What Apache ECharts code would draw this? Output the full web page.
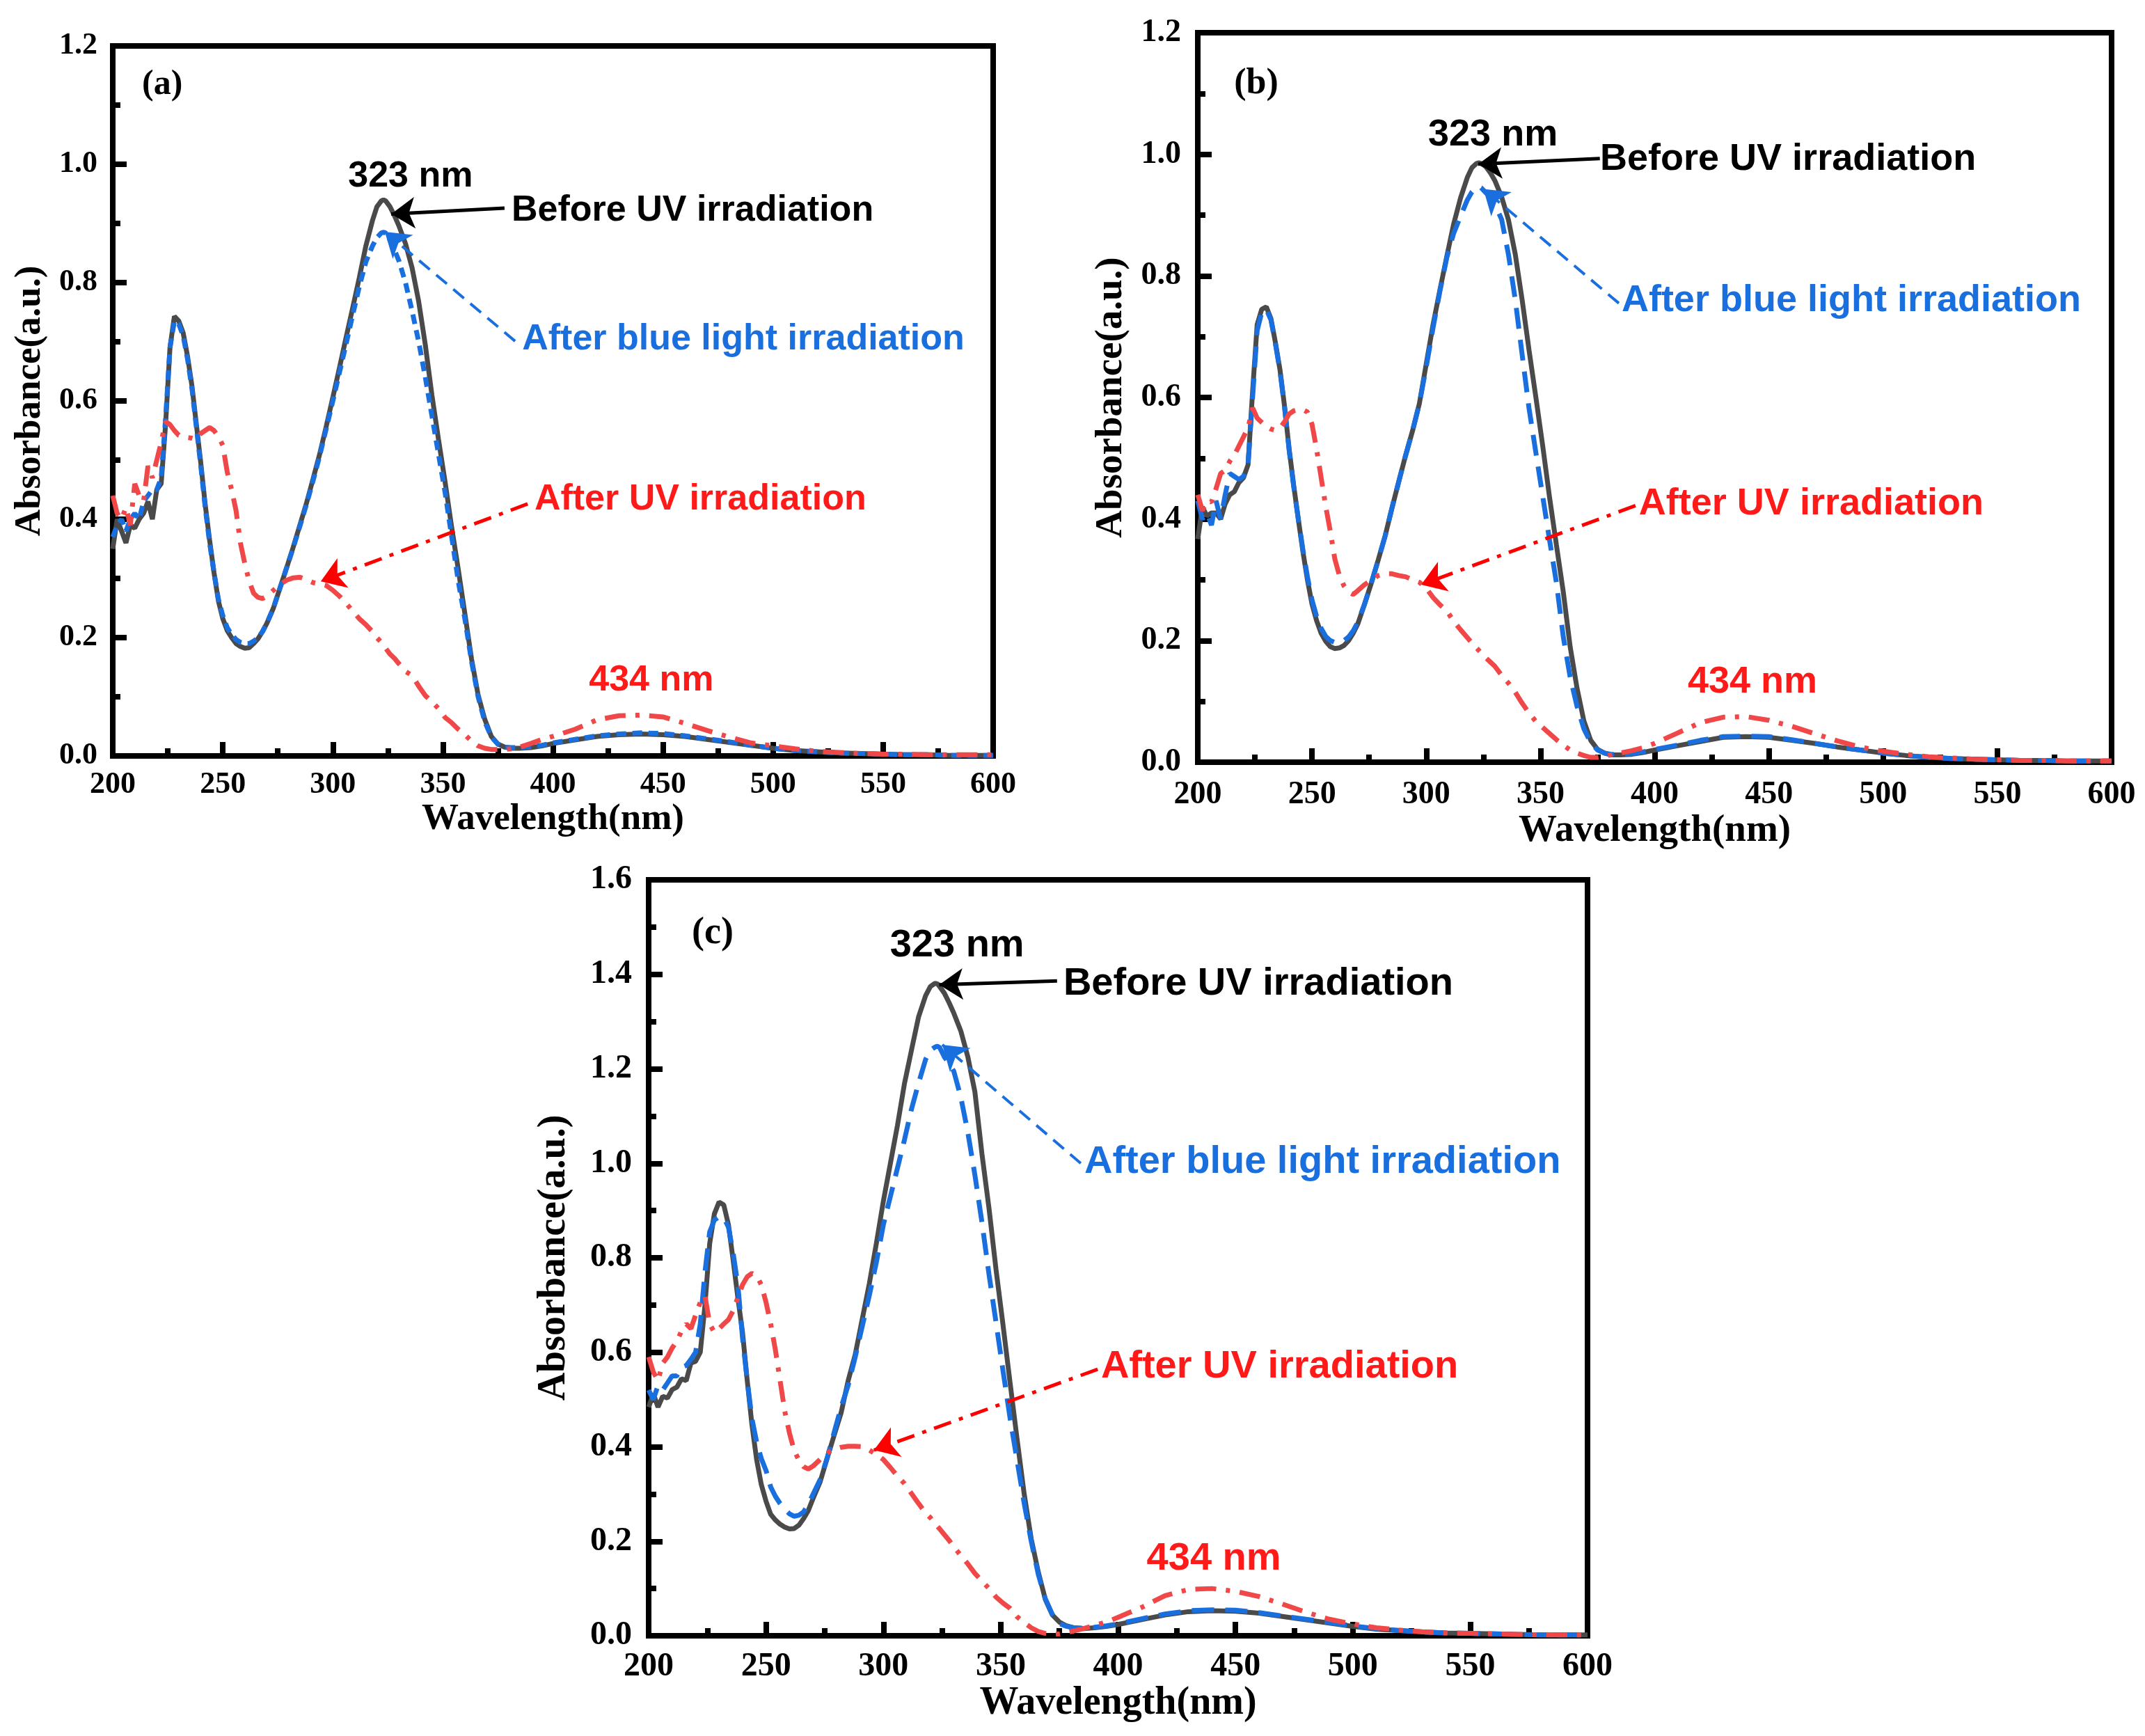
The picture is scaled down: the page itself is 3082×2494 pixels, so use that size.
<!DOCTYPE html>
<html>
<head>
<meta charset="utf-8">
<title>Absorbance spectra (a)(b)(c)</title>
<script src="https://cdn.jsdelivr.net/npm/echarts@6/dist/echarts.min.js"></script>
<style>
  html, body { margin: 0; padding: 0; background: #fff; }
  #main { width: 3082px; height: 2494px; }
</style>
</head>
<body>
<div id="main"></div>
<script>
"use strict";

// shared wavelength grid (nm)
const wavelength = [
  200, 202, 204, 206, 208, 210, 212, 214, 216, 218, 220, 222, 224, 226, 228, 230, 232, 234,
  236, 238, 240, 242, 244, 246, 248, 250, 252, 254, 256, 258, 260, 262, 264, 266, 268, 270,
  273, 276, 279, 282, 285, 288, 291, 294, 297, 300, 303, 306, 309, 312, 315, 318,
  320, 322, 323, 324, 326, 328, 330,
  333, 336, 339, 342, 345, 348, 351, 354, 357, 360, 363, 366, 369, 372, 375, 378, 381,
  385, 390, 395, 400,
  410, 420, 430, 440, 450, 460, 470, 480, 490, 500, 510, 520, 530, 540, 550, 560, 570, 580, 590, 600
];

// panel (a)
const aBefore = [
  0.35, 0.40, 0.38, 0.36, 0.39, 0.385, 0.40, 0.41, 0.43, 0.40, 0.45, 0.46, 0.56, 0.69, 0.743, 0.735, 0.715, 0.675,
  0.625, 0.56, 0.495, 0.425, 0.365, 0.31, 0.262, 0.232, 0.212, 0.200, 0.19, 0.185, 0.182, 0.183, 0.19, 0.198, 0.21, 0.224,
  0.25, 0.284, 0.318, 0.353, 0.39, 0.427, 0.468, 0.51, 0.557, 0.606, 0.656, 0.707, 0.757, 0.808, 0.862, 0.905,
  0.928, 0.938, 0.94, 0.938, 0.928, 0.913, 0.896,
  0.866, 0.825, 0.768, 0.695, 0.61, 0.535, 0.463, 0.386, 0.315, 0.24, 0.164, 0.103, 0.062, 0.033, 0.02, 0.015, 0.013,
  0.013, 0.014, 0.017, 0.021,
  0.027, 0.033, 0.036, 0.037, 0.036, 0.033, 0.028, 0.023, 0.018, 0.013, 0.009, 0.007, 0.005, 0.004, 0.003, 0.002, 0.002, 0.001, 0.001, 0.001
];
const aBlue = [
  0.37, 0.39, 0.40, 0.38, 0.40, 0.41, 0.40, 0.43, 0.44, 0.45, 0.45, 0.47, 0.57, 0.69, 0.735, 0.73, 0.71, 0.67,
  0.62, 0.555, 0.49, 0.42, 0.36, 0.31, 0.265, 0.237, 0.217, 0.205, 0.197, 0.192, 0.19, 0.19, 0.194, 0.2, 0.21, 0.224,
  0.25, 0.284, 0.318, 0.352, 0.388, 0.425, 0.465, 0.507, 0.553, 0.60, 0.648, 0.696, 0.745, 0.793, 0.835, 0.862,
  0.876, 0.884, 0.885, 0.884, 0.872, 0.855, 0.837,
  0.80, 0.752, 0.70, 0.64, 0.575, 0.51, 0.445, 0.37, 0.295, 0.231, 0.16, 0.1, 0.058, 0.032, 0.02, 0.015, 0.014,
  0.014, 0.016, 0.018, 0.022,
  0.028, 0.034, 0.037, 0.039, 0.038, 0.034, 0.029, 0.024, 0.018, 0.013, 0.009, 0.007, 0.005, 0.004, 0.003, 0.002, 0.002, 0.001, 0.001, 0.001
];
const aUv = [
  0.44, 0.41, 0.40, 0.42, 0.39, 0.46, 0.44, 0.43, 0.49, 0.47, 0.50, 0.53, 0.565, 0.56, 0.55, 0.542, 0.54, 0.538,
  0.537, 0.535, 0.545, 0.55, 0.555, 0.55, 0.54, 0.525, 0.48, 0.45, 0.415, 0.36, 0.325, 0.295, 0.275, 0.268, 0.266, 0.27,
  0.28, 0.29, 0.297, 0.301, 0.302, 0.298, 0.293, 0.291, 0.288, 0.28, 0.27, 0.258, 0.245, 0.232, 0.222, 0.21,
  0.2, 0.192, 0.187, 0.182, 0.172, 0.165, 0.156,
  0.143, 0.136, 0.118, 0.102, 0.092, 0.08, 0.065, 0.056, 0.045, 0.036, 0.025, 0.017, 0.013, 0.011, 0.011, 0.011, 0.012,
  0.015, 0.021, 0.028, 0.033,
  0.045, 0.061, 0.068, 0.069, 0.066, 0.055, 0.043, 0.032, 0.022, 0.017, 0.012, 0.008, 0.006, 0.004, 0.003, 0.003, 0.002, 0.002, 0.002, 0.002
];

// panel (b)
const bBefore = [
  0.367, 0.42, 0.405, 0.41, 0.41, 0.40, 0.425, 0.44, 0.445, 0.46, 0.468, 0.489, 0.61, 0.72, 0.745, 0.749, 0.73, 0.69,
  0.645, 0.585, 0.515, 0.455, 0.40, 0.347, 0.30, 0.26, 0.233, 0.212, 0.199, 0.19, 0.187, 0.188, 0.192, 0.2, 0.212, 0.227,
  0.26, 0.295, 0.333, 0.372, 0.418, 0.462, 0.505, 0.545, 0.59, 0.655, 0.72, 0.777, 0.832, 0.885, 0.928, 0.962,
  0.978, 0.985, 0.986, 0.985, 0.98, 0.97, 0.957,
  0.93, 0.892, 0.835, 0.76, 0.678, 0.60, 0.52, 0.435, 0.357, 0.28, 0.19, 0.122, 0.068, 0.036, 0.021, 0.015, 0.012,
  0.012, 0.013, 0.016, 0.02,
  0.027, 0.034, 0.041, 0.042, 0.041, 0.036, 0.031, 0.025, 0.02, 0.015, 0.011, 0.008, 0.006, 0.005, 0.004, 0.003, 0.003, 0.002, 0.002, 0.002
];
const bBlue = [
  0.43, 0.40, 0.41, 0.39, 0.43, 0.40, 0.44, 0.475, 0.47, 0.465, 0.47, 0.49, 0.60, 0.71, 0.74, 0.745, 0.728, 0.688,
  0.643, 0.583, 0.513, 0.453, 0.40, 0.35, 0.305, 0.267, 0.24, 0.22, 0.207, 0.2, 0.197, 0.197, 0.2, 0.206, 0.216, 0.23,
  0.26, 0.295, 0.333, 0.372, 0.418, 0.462, 0.505, 0.545, 0.59, 0.65, 0.715, 0.775, 0.83, 0.87, 0.898, 0.925,
  0.938, 0.945, 0.947, 0.945, 0.937, 0.93, 0.918,
  0.893, 0.835, 0.76, 0.67, 0.582, 0.509, 0.437, 0.365, 0.295, 0.206, 0.14, 0.092, 0.055, 0.032, 0.02, 0.015, 0.013,
  0.013, 0.014, 0.017, 0.021,
  0.028, 0.036, 0.042, 0.043, 0.042, 0.037, 0.031, 0.025, 0.02, 0.015, 0.011, 0.008, 0.006, 0.005, 0.004, 0.003, 0.003, 0.002, 0.002, 0.002
];
const bUv = [
  0.44, 0.414, 0.43, 0.428, 0.45, 0.475, 0.48, 0.495, 0.505, 0.52, 0.535, 0.55, 0.583, 0.566, 0.559, 0.552, 0.548, 0.546,
  0.55, 0.56, 0.573, 0.578, 0.58, 0.58, 0.576, 0.556, 0.515, 0.468, 0.421, 0.38, 0.334, 0.307, 0.29, 0.28, 0.276, 0.282,
  0.292, 0.30, 0.307, 0.31, 0.31, 0.307, 0.305, 0.30, 0.296, 0.286, 0.271, 0.259, 0.249, 0.232, 0.218, 0.205,
  0.196, 0.188, 0.184, 0.18, 0.172, 0.165, 0.158,
  0.143, 0.13, 0.115, 0.097, 0.081, 0.067, 0.057, 0.047, 0.037, 0.028, 0.02, 0.015, 0.011, 0.008, 0.008, 0.01, 0.012,
  0.015, 0.019, 0.024, 0.031,
  0.048, 0.065, 0.074, 0.075, 0.069, 0.059, 0.047, 0.035, 0.025, 0.018, 0.013, 0.009, 0.007, 0.005, 0.004, 0.003, 0.003, 0.002, 0.002, 0.002
];

// panel (c)
const cBefore = [
  0.484, 0.512, 0.484, 0.507, 0.503, 0.521, 0.526, 0.544, 0.54, 0.577, 0.581, 0.60, 0.70, 0.83, 0.893, 0.918, 0.912, 0.87,
  0.795, 0.716, 0.642, 0.54, 0.447, 0.373, 0.32, 0.285, 0.257, 0.245, 0.236, 0.23, 0.226, 0.227, 0.234, 0.248, 0.265, 0.29,
  0.325, 0.375, 0.424, 0.472, 0.54, 0.595, 0.67, 0.745, 0.83, 0.92, 1.0, 1.08, 1.169, 1.24, 1.31, 1.355,
  1.374, 1.381, 1.38, 1.374, 1.36, 1.34, 1.318,
  1.28, 1.225, 1.151, 1.02, 0.905, 0.775, 0.657, 0.535, 0.415, 0.30, 0.205, 0.135, 0.077, 0.044, 0.029, 0.021, 0.017,
  0.015, 0.017, 0.02, 0.024,
  0.034, 0.044, 0.051, 0.053, 0.052, 0.048, 0.041, 0.034, 0.027, 0.02, 0.014, 0.011, 0.008, 0.006, 0.005, 0.004, 0.003, 0.002, 0.002, 0.002
];
const cBlue = [
  0.52, 0.50, 0.53, 0.52, 0.535, 0.55, 0.55, 0.568, 0.572, 0.585, 0.60, 0.66, 0.77, 0.855, 0.88, 0.887, 0.885, 0.865,
  0.81, 0.743, 0.63, 0.54, 0.46, 0.41, 0.375, 0.35, 0.315, 0.295, 0.28, 0.268, 0.258, 0.253, 0.255, 0.262, 0.278, 0.299,
  0.33, 0.375, 0.43, 0.484, 0.53, 0.59, 0.655, 0.72, 0.79, 0.87, 0.93, 0.99, 1.05, 1.115, 1.17, 1.22,
  1.239, 1.246, 1.248, 1.245, 1.225, 1.212, 1.195,
  1.14, 1.065, 0.975, 0.875, 0.765, 0.663, 0.56, 0.46, 0.37, 0.28, 0.2, 0.13, 0.078, 0.045, 0.026, 0.02, 0.017,
  0.016, 0.018, 0.021, 0.025,
  0.036, 0.046, 0.053, 0.055, 0.054, 0.049, 0.042, 0.035, 0.028, 0.021, 0.015, 0.011, 0.008, 0.006, 0.005, 0.004, 0.003, 0.002, 0.002, 0.002
];
const cUv = [
  0.59, 0.558, 0.54, 0.577, 0.59, 0.609, 0.623, 0.645, 0.66, 0.65, 0.679, 0.706, 0.72, 0.66, 0.642, 0.65, 0.66, 0.669,
  0.688, 0.716, 0.743, 0.76, 0.767, 0.762, 0.743, 0.706, 0.66, 0.605, 0.54, 0.475, 0.429, 0.392, 0.372, 0.358, 0.353, 0.359,
  0.373, 0.387, 0.395, 0.399, 0.401, 0.401, 0.4, 0.393, 0.384, 0.373, 0.356, 0.338, 0.322, 0.301, 0.28, 0.26,
  0.25, 0.238, 0.232, 0.226, 0.214, 0.202, 0.188,
  0.17, 0.152, 0.132, 0.116, 0.1, 0.082, 0.069, 0.058, 0.04, 0.028, 0.017, 0.009, 0.005, 0.003, 0.004, 0.007, 0.01,
  0.015, 0.022, 0.029, 0.039,
  0.06, 0.085, 0.098, 0.1, 0.094, 0.083, 0.067, 0.05, 0.035, 0.025, 0.017, 0.012, 0.008, 0.006, 0.005, 0.004, 0.003, 0.002, 0.002, 0.002
];

const yMaxes = [1.2, 1.2, 1.6];
const panelLetters = ['(a)', '(b)', '(c)'];
const peakText = '323 nm';
const bandText = '434 nm';

const BLACK = '#4a4a4a';
const BLUE = '#1a6fdf';
const RED = '#f04848';
const RED_TEXT = '#ff1a1a';

// layout per panel (pixels) and annotation anchors (data coords)
const panels = [
  {
    grid: { left: 162, top: 66, width: 1265, height: 1020 },
    tick: 44, title: 53, note: 52, gapY: 92, gapX: 64, marginX: 20, marginY: 22,
    blueDash: [14, 9],
    series: [aBefore, aBlue, aUv],
    notes: { letter: [222.5, 1.134], peak: [335.3, 0.979], before: [381.2, 0.922],
             blue: [386, 0.704], uv: [391.6, 0.433], band: [444.7, 0.127] },
    arrows: { before: [[378, 0.926], [326.5, 0.916]], blue: [[382.8, 0.701], [323.6, 0.886]],
              uv: [[388.5, 0.426], [294.5, 0.295]] }
  },
  {
    grid: { left: 1721, top: 47, width: 1313, height: 1048 },
    tick: 46, title: 55, note: 54, gapY: 97, gapX: 70, marginX: 24, marginY: 24,
    blueDash: [30, 16],
    series: [bBefore, bBlue, bUv],
    notes: { letter: [225.6, 1.116], peak: [329.2, 1.032], before: [376.1, 0.991],
             blue: [385.5, 0.759], uv: [393.1, 0.425], band: [442.8, 0.132] },
    arrows: { before: [[376, 0.993], [322.8, 0.984]], blue: [[384.3, 0.755], [325, 0.943]],
              uv: [[391.6, 0.422], [297.8, 0.292]] }
  },
  {
    grid: { left: 932, top: 1264, width: 1349, height: 1086 },
    tick: 48, title: 56, note: 56, gapY: 107, gapX: 68, marginX: 21, marginY: 24,
    blueDash: [32, 16],
    series: [cBefore, cBlue, cUv],
    notes: { letter: [227.3, 1.486], peak: [331.4, 1.46], before: [376.7, 1.38],
             blue: [385.6, 1.003], uv: [392.7, 0.57], band: [440.8, 0.163] },
    arrows: { before: [[374, 1.386], [323.8, 1.378]], blue: [[384.1, 1.0], [325.1, 1.251]],
              uv: [[391.3, 0.564], [296, 0.393]] }
  }
];

function pairs(ys) {
  return wavelength.map((w, i) => [w, ys[i]]);
}

function arrow(line, color, type, width) {
  return {
    silent: true,
    animation: false,
    symbol: ['none', 'arrow'],
    symbolSize: 34,
    label: { show: false },
    emphasis: { disabled: true },
    itemStyle: { color: color },
    lineStyle: { color: color, width: width, type: type, opacity: 1 },
    data: [[
      { coord: line[0], symbol: 'none' },
      { coord: line[1], symbol: 'arrow', symbolSize: 34 }
    ]]
  };
}

const serif = '"Liberation Serif", "Times New Roman", serif';
const sans = '"Liberation Sans", Arial, sans-serif';

let grids = [], xAxes = [], yAxes = [], series = [];

panels.forEach((p, i) => {
  grids.push(Object.assign({ show: true, borderColor: '#000', borderWidth: 8, containLabel: false }, p.grid));

  const tickLine = { color: '#000', width: 8 };
  xAxes.push({
    gridIndex: i, type: 'value', min: 200, max: 600, interval: 50,
    name: 'Wavelength(nm)', nameLocation: 'middle', nameGap: p.gapX,
    nameTextStyle: { fontFamily: serif, fontWeight: 'bold', fontSize: p.title, color: '#000' },
    axisLine: { show: true, onZero: false, lineStyle: { color: '#000', width: 8 } },
    axisTick: { show: true, inside: true, length: 20, lineStyle: tickLine },
    minorTick: { show: true, splitNumber: 2, length: 11, lineStyle: tickLine },
    axisLabel: { margin: p.marginX, fontFamily: serif, fontWeight: 'bold', fontSize: p.tick, color: '#000' },
    splitLine: { show: false }
  });
  yAxes.push({
    gridIndex: i, type: 'value', min: 0, max: yMaxes[i], interval: 0.2,
    name: 'Absorbance(a.u.)', nameLocation: 'middle', nameGap: p.gapY, nameRotate: 90,
    nameTextStyle: { fontFamily: serif, fontWeight: 'bold', fontSize: p.title, color: '#000' },
    axisLine: { show: true, onZero: false, lineStyle: { color: '#000', width: 8 } },
    axisTick: { show: true, inside: true, length: 20, lineStyle: tickLine },
    minorTick: { show: true, splitNumber: 2, length: 11, lineStyle: tickLine },
    axisLabel: { margin: p.marginY, fontFamily: serif, fontWeight: 'bold', fontSize: p.tick, color: '#000',
                 formatter: v => v.toFixed(1) },
    splitLine: { show: false }
  });

  const [before, blue, uv] = p.series;
  series.push({
    name: 'Before UV irradiation', type: 'line', xAxisIndex: i, yAxisIndex: i,
    data: pairs(before), showSymbol: false, z: 2,
    lineStyle: { color: BLACK, width: 7 },
    markLine: arrow(p.arrows.before, '#000', 'solid', 5)
  });
  series.push({
    name: 'After blue light irradiation', type: 'line', xAxisIndex: i, yAxisIndex: i,
    data: pairs(blue), showSymbol: false, z: 3,
    lineStyle: { color: BLUE, width: 7, type: p.blueDash },
    markLine: arrow(p.arrows.blue, BLUE, [20, 12], 4)
  });
  series.push({
    name: 'After UV irradiation', type: 'line', xAxisIndex: i, yAxisIndex: i,
    data: pairs(uv), showSymbol: false, z: 4,
    lineStyle: { color: RED, width: 7, type: [30, 14, 6, 14] },
    markLine: arrow(p.arrows.uv, '#ff0000', [26, 12, 6, 12], 5)
  });
});

let myChart = echarts.init(document.getElementById('main'));

myChart.setOption({
  animation: false,
  backgroundColor: '#fff',
  grid: grids,
  xAxis: xAxes,
  yAxis: yAxes,
  series: series
});

// annotation texts, placed from data coordinates
let texts = [];
function note(i, coord, text, font, color, align) {
  const pt = myChart.convertToPixel({ gridIndex: i }, coord);
  texts.push({
    type: 'text', x: pt[0], y: pt[1], z: 100, silent: true,
    style: { text: text, font: font, fill: color,
             textAlign: align, align: align, textVerticalAlign: 'middle', verticalAlign: 'middle' }
  });
}

panels.forEach((p, i) => {
  const f = 'bold ' + p.note + 'px ' + sans;
  note(i, p.notes.letter, panelLetters[i], 'bold ' + (p.tick + 6) + 'px ' + serif, '#000', 'center');
  note(i, p.notes.peak, peakText, f, '#000', 'center');
  note(i, p.notes.before, 'Before UV irradiation', f, '#000', 'left');
  note(i, p.notes.blue, 'After blue light irradiation', f, BLUE, 'left');
  note(i, p.notes.uv, 'After UV irradiation', f, RED_TEXT, 'left');
  note(i, p.notes.band, bandText, f, RED_TEXT, 'center');
});

myChart.setOption({ graphic: texts });
</script>
</body>
</html>
